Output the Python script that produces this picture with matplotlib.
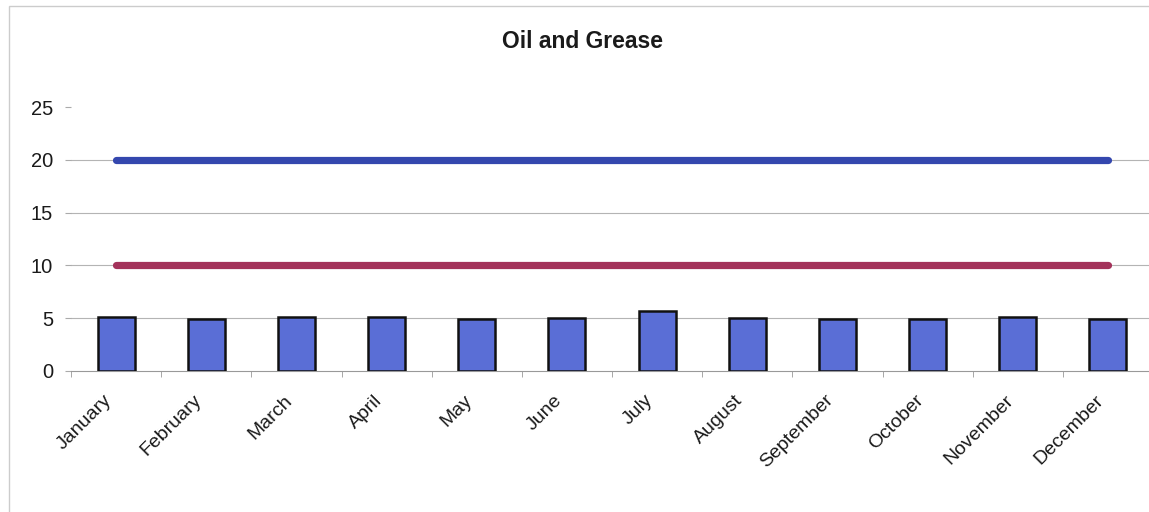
from matplotlib import pyplot as plt
from matplotlib.patches import Rectangle
import matplotlib.transforms as mtransforms
import numpy as np

plt.rcParams['font.family'] = ['Liberation Sans', 'DejaVu Sans']

months = ['January', 'February', 'March', 'April', 'May', 'June', 'July',
          'August', 'September', 'October', 'November', 'December']
oil_grease = [5.13, 4.9, 5.15, 5.15, 4.9, 5.0, 5.65, 5.05, 4.93, 4.93, 5.15, 4.9]
limit_high = [20] * 12
limit_low = [10] * 12

fig = plt.figure(figsize=(11.49, 5.12), dpi=100)
# plot area runs past the right edge of the picture, like the cropped original
ax = fig.add_axes([0.0618, 0.2754, 0.9417, 0.5156])

x = np.arange(len(months))
ax.bar(x, oil_grease, width=0.41, color='#5a6ed6', edgecolor='#111111', linewidth=1.8, zorder=3)
ax.plot(x, limit_high, color='#3447ae', linewidth=5.2, solid_capstyle='round', zorder=4)
ax.plot(x, limit_low, color='#a3325a', linewidth=5.2, solid_capstyle='round', zorder=4)

ax.set_xlim(-0.5, 11.5)
ax.set_ylim(0, 25)
ax.set_yticks([0, 5, 10, 15, 20, 25])
for yv in [5, 10, 15, 20]:
    ax.axhline(yv, color='#b4b4b4', linewidth=0.8, zorder=1)

ax.set_xticks(x)
ax.set_xticklabels(months, rotation=45, ha='right', rotation_mode='anchor', fontsize=14)
ax.set_xticks(np.arange(-0.5, 12, 1), minor=True)
ax.tick_params(axis='x', which='major', length=0, pad=15)
ax.tick_params(axis='x', which='minor', length=4, color='#999999')
ax.tick_params(axis='y', length=4, color='#aaaaaa', labelsize=14.5, pad=9, labelcolor='#1a1a1a')

shift = mtransforms.ScaledTranslation(-13 / 100, 0, fig.dpi_scale_trans)
for lab in ax.get_xticklabels():
    lab.set_transform(lab.get_transform() + shift)
    lab.set_color('#1a1a1a')

for s in ['top', 'right', 'left']:
    ax.spines[s].set_visible(False)
ax.spines['bottom'].set_color('#999999')
ax.spines['bottom'].set_linewidth(0.8)

fig.text(582 / 1149, 1 - 42 / 512, 'Oil and Grease', ha='center', va='center',
         fontsize=16.5, fontweight='bold', color='#1a1a1a')

fig.patches.append(Rectangle((9 / 1149, -0.01), 1.0, 1 - 6 / 512 + 0.01, transform=fig.transFigure,
                             fill=False, edgecolor='#cccccc', linewidth=1))

fig.savefig('out.png', dpi=100)
